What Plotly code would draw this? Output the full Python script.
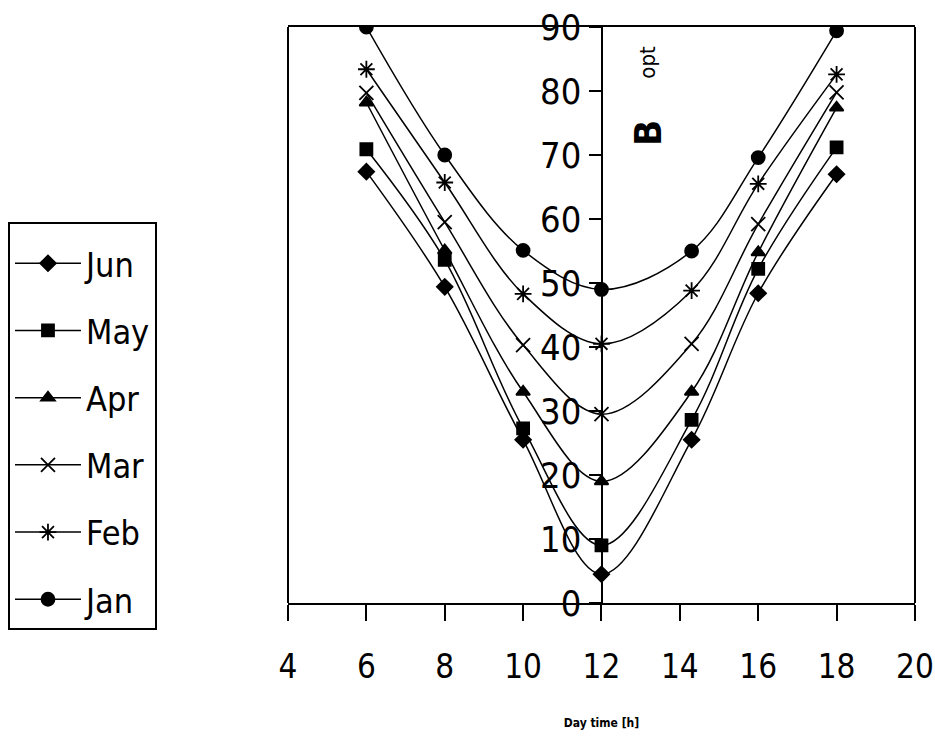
import plotly.graph_objects as go

hours = [6, 8, 10, 12, 14.3, 16, 18]
months = ["Jun", "May", "Apr", "Mar", "Feb", "Jan"]
jun = [67.4, 49.4, 25.5, 4.5, 25.5, 48.4, 67.0]
may = [70.9, 53.6, 27.3, 9.0, 28.6, 52.2, 71.2]
apr = [78.2, 55.1, 33.0, 19.0, 33.0, 54.8, 77.4]
mar = [79.7, 59.5, 40.3, 29.5, 40.5, 59.2, 79.8]
feb = [83.4, 65.7, 48.3, 40.5, 48.8, 65.5, 82.6]
jan = [90.0, 70.0, 55.1, 49.0, 55.0, 69.6, 89.4]
series = [jun, may, apr, mar, feb, jan]
symbols = ["diamond", "square", "triangle-up", "x-thin-open", "asterisk-open", "circle"]
sizes = [12, 12, 12, 14, 14, 13]
y_ticks = list(range(0, 91, 10))
x_ticks = list(range(4, 21, 2))

FONT = "DejaVu Sans Condensed, Liberation Sans Narrow, Arial Narrow, sans-serif"

fig = go.Figure()
for name, vals, sym, sz in zip(months, series, symbols, sizes):
    fig.add_trace(go.Scatter(
        x=hours, y=vals, name=name, mode="lines+markers",
        line=dict(color="black", width=1.5, shape="spline", smoothing=1),
        marker=dict(symbol=sym, size=sz, color="black",
                    line=dict(color="black", width=1.8)),
        legendgroup=name,
    ))

fig.update_layout(
    width=935, height=742,
    margin=dict(l=288, r=20, t=27, b=139, autoexpand=False),
    paper_bgcolor="white", plot_bgcolor="white",
    font=dict(family=FONT, color="black"),
    showlegend=True,
    legend=dict(
        x=-0.4466, xanchor="left", y=0.661, yanchor="top",
        bordercolor="black", borderwidth=2, bgcolor="white",
        font=dict(family=FONT, size=34, color="black"),
        tracegroupgap=20, traceorder="grouped",
        itemwidth=66,
        title=dict(text=" ", font=dict(size=8)),
    ),
    xaxis=dict(
        range=[4, 20.001], tickvals=x_ticks, ticks="outside", ticklen=16,
        tickwidth=2, tickcolor="black", showline=True, linecolor="black",
        linewidth=2, mirror=True, showgrid=False, zeroline=False,
        automargin=False, ticklabeloverflow="allow",
        tickfont=dict(family=FONT, size=33, color="black"),
        ticklabelstandoff=17,
        title=dict(text="<b>Day time [h]</b>", font=dict(size=12, family=FONT), standoff=34),
    ),
    yaxis=dict(
        range=[0, 90], tickvals=y_ticks, ticks="outside", ticklen=12,
        tickwidth=2, tickcolor="black", showline=True, linecolor="black",
        linewidth=2, showgrid=False, zeroline=False,
        anchor="free", position=0.5, automargin=False,
        ticklabeloverflow="allow",
        tickfont=dict(family=FONT, size=36, color="black"),
    ),
    shapes=[
        dict(type="line", xref="paper", yref="paper", x0=0, x1=0, y0=0, y1=1,
             line=dict(color="black", width=2)),
        dict(type="line", xref="paper", yref="paper", x0=1, x1=1, y0=0, y1=1,
             line=dict(color="black", width=2)),
    ],
    annotations=[
        dict(text="<b>B</b>", x=12.0, y=73.5, xref="x", yref="y", xshift=46,
             showarrow=False, textangle=-90, font=dict(family=FONT, size=38)),
        dict(text="opt", x=12.0, y=84.5, xref="x", yref="y", xshift=46,
             showarrow=False, textangle=-90, font=dict(family=FONT, size=22)),
    ],
)

fig.write_html(
    "out.html",
    config={"displayModeBar": False},
    post_script="document.body.style.margin='0';document.body.style.overflow='hidden';",
)
